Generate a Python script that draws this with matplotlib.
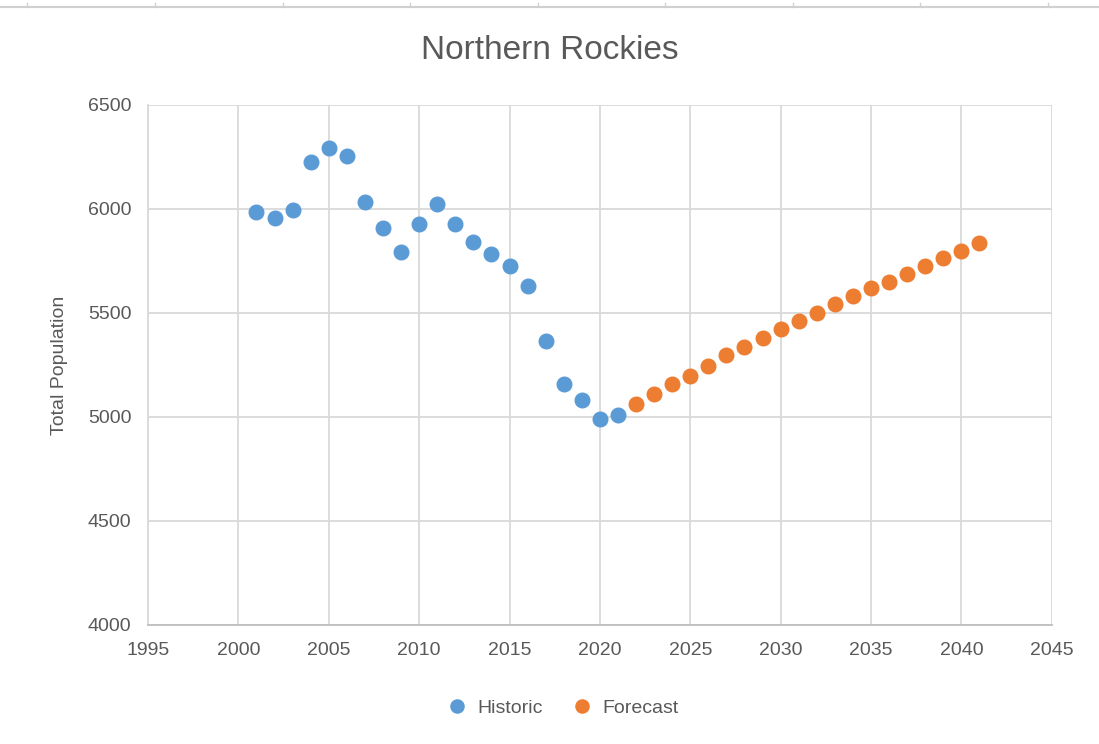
import matplotlib
matplotlib.use("Agg")
import matplotlib.pyplot as plt
from matplotlib.lines import Line2D

plt.rcParams['font.family'] = ['Liberation Sans', 'DejaVu Sans']

# data
hist_years = list(range(2001, 2022))
hist_pop = [5986, 5957, 5995, 6226, 6293, 6255, 6034, 5909, 5793, 5928, 6024,
            5928, 5841, 5784, 5726, 5630, 5364, 5160, 5080, 4990, 5010]
fc_years = list(range(2022, 2042))
fc_pop = [5062, 5111, 5159, 5198, 5245, 5296, 5335, 5382, 5423, 5463,
          5500, 5541, 5580, 5621, 5650, 5688, 5727, 5765, 5799, 5836]

blue = '#5B9BD5'
orange = '#ED7D31'
grid_col = '#D9D9D9'
text_col = '#595959'

fig = plt.figure(figsize=(10.99, 7.44), dpi=100)
ax = fig.add_axes([0.1347, 0.16, 0.8223, 0.6989])

ax.plot(hist_years, hist_pop, 'o', color=blue, markersize=10.5, label='Historic', zorder=3)
ax.plot(fc_years, fc_pop, 'o', color=orange, markersize=10.5, label='Forecast', zorder=3)

ax.set_xlim(1995, 2045)
ax.set_ylim(4000, 6500)
ax.set_xticks(range(1995, 2046, 5))
ax.set_yticks(range(4000, 6501, 500))
ax.grid(True, color=grid_col, linewidth=1.3)
ax.set_axisbelow(True)
for s in ['top', 'right']:
    ax.spines[s].set_visible(False)
ax.spines['left'].set_color(grid_col)
ax.spines['left'].set_linewidth(1.3)
ax.spines['bottom'].set_color('#BFBFBF')
ax.spines['bottom'].set_linewidth(1.3)
ax.tick_params(length=0, labelsize=14, labelcolor=text_col, pad=12)

ax.set_ylabel('Total Population', fontsize=14, color=text_col, labelpad=14)
fig.text(0.5, 0.932, 'Northern Rockies', ha='center', va='center', fontsize=24, color=text_col)

fig.legend(loc='center', bbox_to_anchor=(0.508, 0.048), ncol=2, frameon=False,
           fontsize=14, handletextpad=0.05, columnspacing=1.0, markerscale=0.9,
           labelcolor=text_col)

# thin sheet border line at the top
fig.add_artist(Line2D([0, 1], [0.99, 0.99], color='#D0D0D0', linewidth=1.5))
for x in [27, 155, 283, 410, 538, 665, 793, 920, 1048]:
    fig.add_artist(Line2D([x / 1099, x / 1099], [0.99, 0.996], color='#D0D0D0', linewidth=1))

fig.savefig('out.png', dpi=100)
